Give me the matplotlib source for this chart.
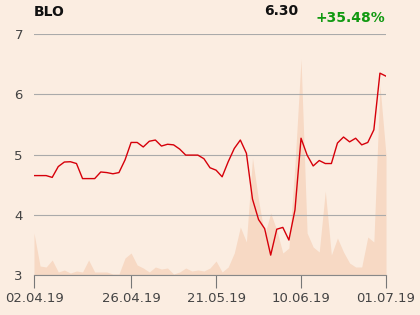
import matplotlib
matplotlib.use('Agg')
import matplotlib.pyplot as plt

### données

kurs = [4.65, 4.65, 4.65, 4.62, 4.80, 4.875, 4.88, 4.85, 4.60, 4.60,
        4.60, 4.71, 4.70, 4.68, 4.70, 4.91, 5.20, 5.20, 5.125, 5.22,
        5.24, 5.14, 5.17, 5.16, 5.09, 4.99, 4.99, 4.99, 4.93, 4.78,
        4.74, 4.63, 4.88, 5.10, 5.24, 5.02, 4.26, 3.92, 3.77, 3.33,
        3.76, 3.79, 3.58, 4.08, 5.27, 4.99, 4.81, 4.90, 4.85, 4.85,
        5.19, 5.29, 5.21, 5.27, 5.16, 5.20, 5.41, 6.35, 6.30]

volumen = [42, 9, 8, 15, 3, 5, 2, 4, 3, 15,
           3, 3, 3, 1, 1, 17, 22, 10, 7, 3,
           8, 6, 7, 1, 3, 7, 4, 5, 4, 7,
           14, 3, 8, 22, 48, 33, 117, 75, 40, 62,
           45, 22, 27, 110, 216, 42, 28, 23, 84, 20,
           37, 23, 12, 8, 8, 38, 33, 190, 120]

tick_pos = [0, 16, 30, 44, 58]
tick_labels = ['02.04.19', '26.04.19', '21.05.19', '10.06.19', '01.07.19']

fond = '#fbede1'
x = list(range(len(kurs)))

fig = plt.figure(figsize=(4.2, 3.15), dpi=100, facecolor=fond)
ax = fig.add_axes([34/420, 40/315, 352/420, 241/315])
ax.set_facecolor('none')

# volume en arrière-plan
av = ax.twinx()
av.fill_between(x, 0, volumen, color='#f7d9c4', lw=0)
av.set_ylim(0, 241)
av.set_axis_off()
ax.set_zorder(av.get_zorder() + 1)
av.set_zorder(0)
av.patch.set_visible(False)

ax.plot(x, kurs, color='#d6000a', lw=1.0)
ax.set_xlim(0, len(kurs) - 1)
ax.set_ylim(3, 7)
ax.set_yticks([3, 4, 5, 6, 7])
ax.grid(axis='y', color='#aaaaaa', lw=0.8)
ax.set_xticks(tick_pos)
ax.set_xticklabels(tick_labels)
for s in ['top', 'right', 'left']:
    ax.spines[s].set_visible(False)
ax.spines['bottom'].set_color('#888888')
ax.tick_params(axis='x', length=9.5, color='#777777', labelsize=9.5, labelcolor='#444444', pad=3, direction='out')
ax.tick_params(axis='y', length=0, labelsize=9.5, labelcolor='#444444', pad=8)

fig.text(34/420, 1 - 16/315, 'BLO', fontsize=10, fontweight='bold', color='#111111')
fig.text(298/420, 1 - 15/315, '6.30', fontsize=10, fontweight='bold', color='#111111', ha='right')
fig.text(385/420, 1 - 22/315, '+35.48%', fontsize=10, fontweight='bold', color='#119911', ha='right')

fig.savefig('out.png', dpi=100, facecolor=fond)
